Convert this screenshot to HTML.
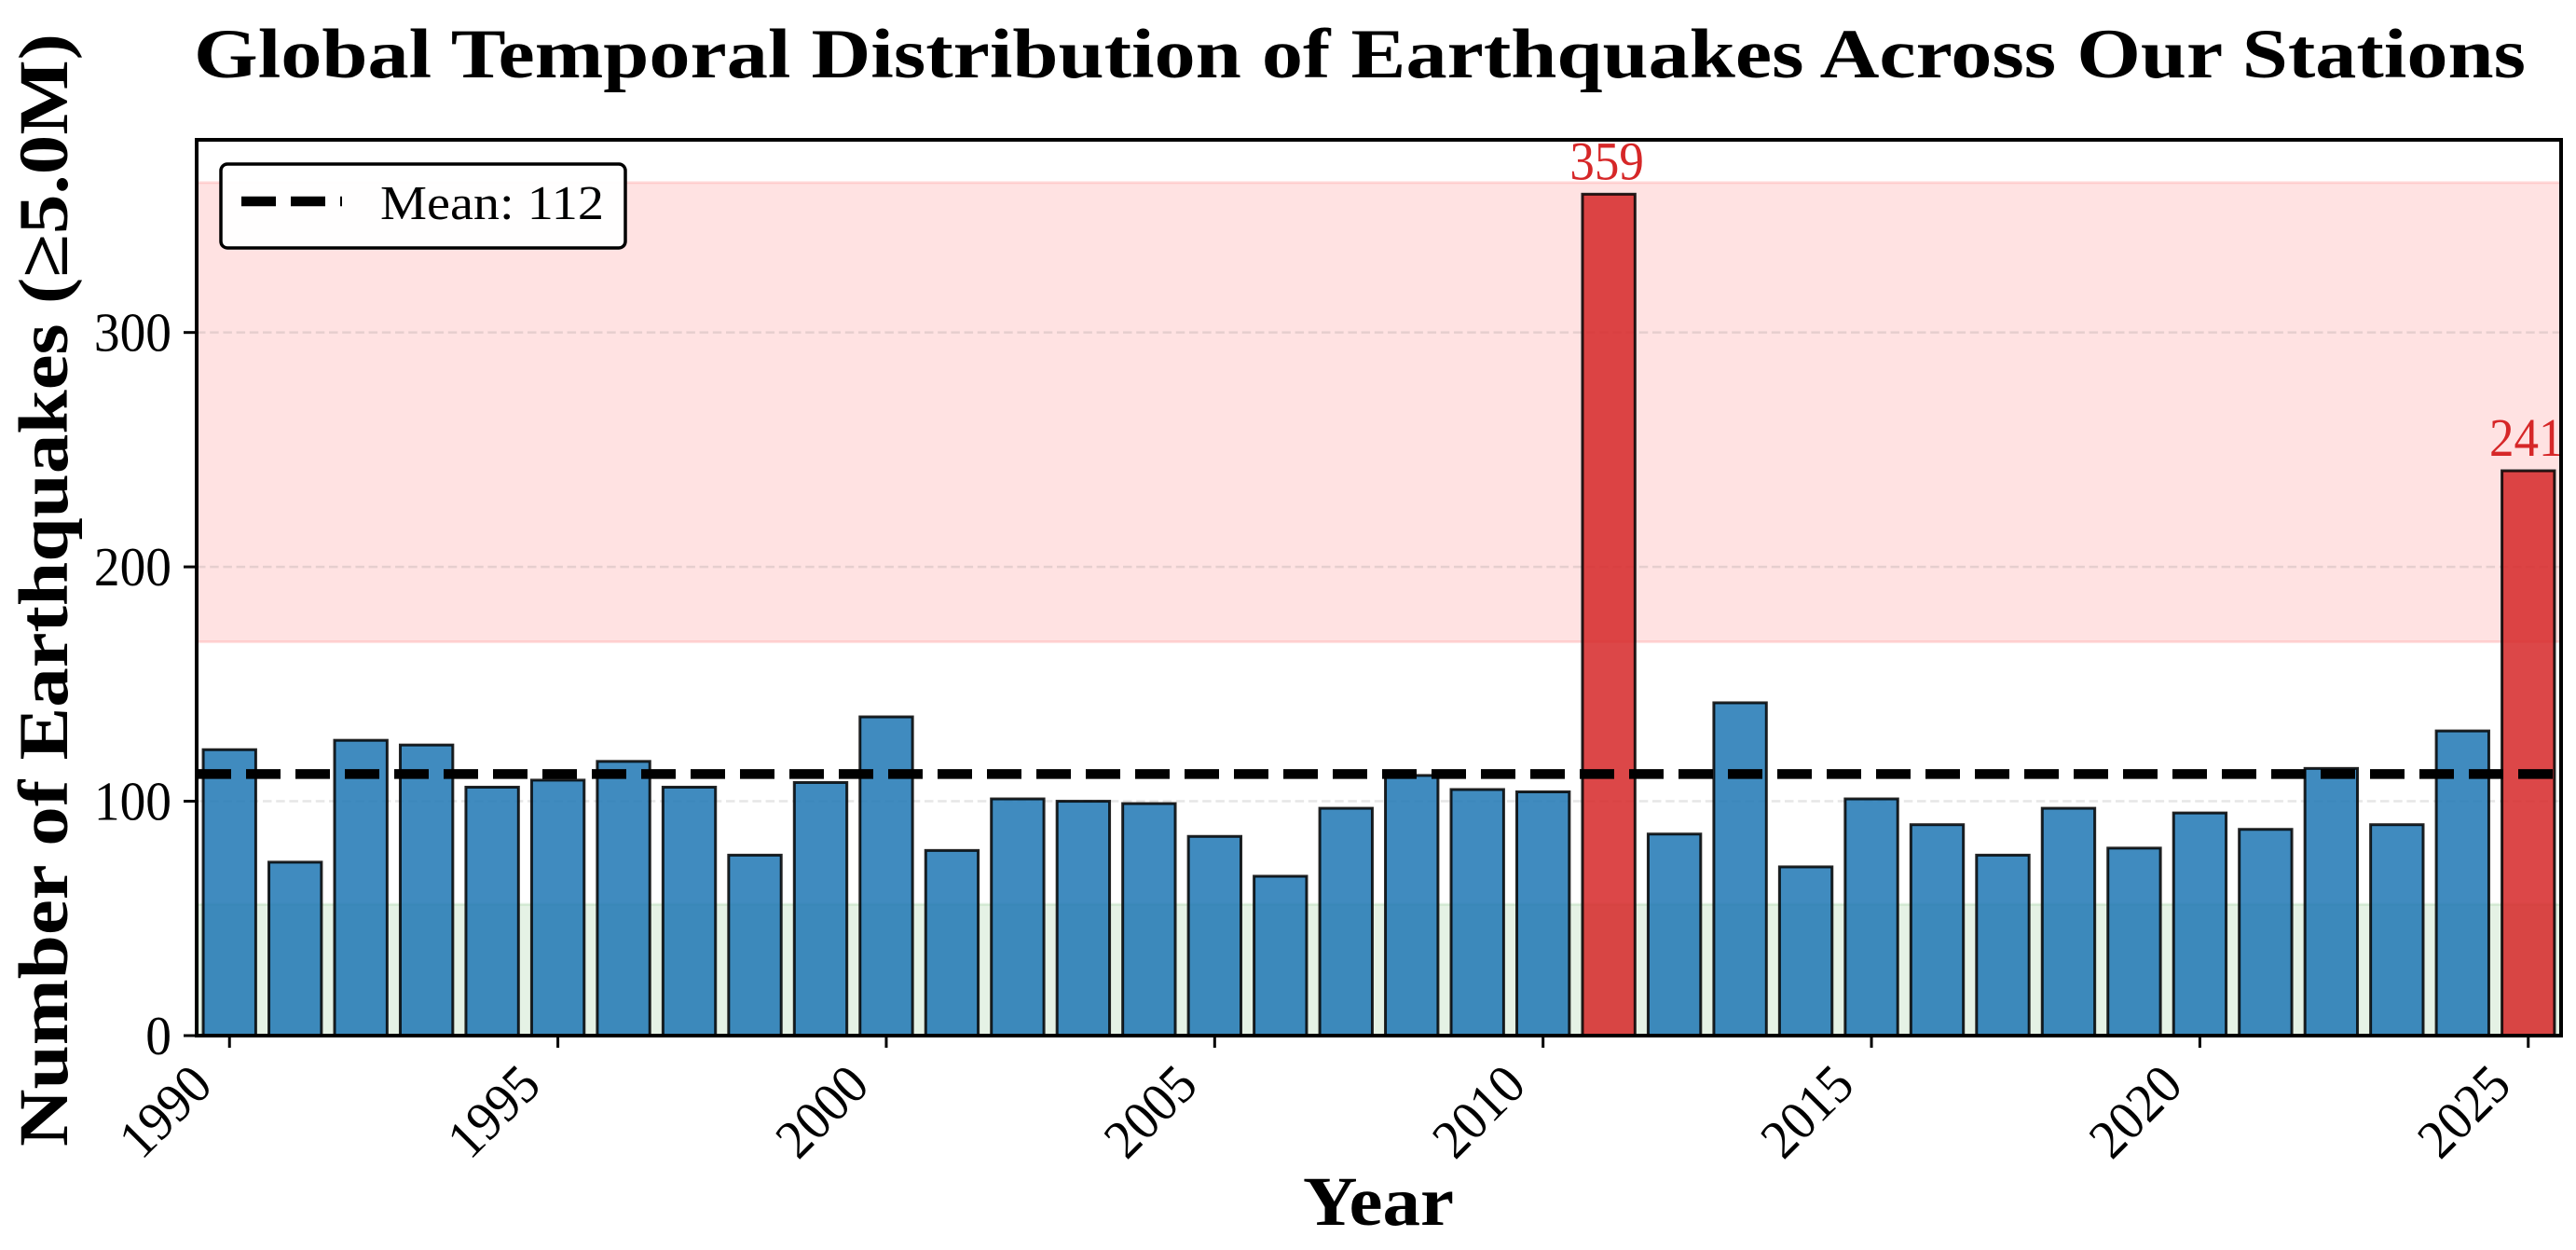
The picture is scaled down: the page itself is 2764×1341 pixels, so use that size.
<!DOCTYPE html>
<html lang="en">
<head>
<meta charset="utf-8">
<title>Global Temporal Distribution of Earthquakes Across Our Stations</title>
<style>
html,body{margin:0;padding:0;background:#fff;width:2764px;height:1341px;overflow:hidden}
svg{display:block}
text{font-family:"Liberation Serif",serif;fill:#000}
.bold{font-weight:bold}
</style>
</head>
<body>
<svg id="chart" xmlns="http://www.w3.org/2000/svg" width="2764" height="1341" viewBox="0 0 2764 1341">
  <rect x="0" y="0" width="2764" height="1341" fill="#fff"/>
  <text class="bold" x="208" y="83" font-size="75" textLength="2502" lengthAdjust="spacingAndGlyphs">Global Temporal Distribution of Earthquakes Across Our Stations</text>
  <text class="bold" transform="translate(72,1230) rotate(-90)" x="0" y="0" font-size="75" textLength="1194" lengthAdjust="spacingAndGlyphs">Number of Earthquakes (≥5.0M)</text>
  <text class="bold" x="1398" y="1314" font-size="75" textLength="162" lengthAdjust="spacingAndGlyphs">Year</text>
  <g id="bands"></g>
  <g id="grid"></g>
  <g id="bars"></g>
  <g id="mean"></g>
  <g id="labels"></g>
  <g id="xticks"></g>
  <g id="yticks"></g>
  <rect x="211" y="150" width="2537" height="961" fill="none" stroke="#000" stroke-width="4"/>
  <g>
    <rect x="237" y="176" width="434" height="90" rx="7" ry="7" fill="#fff" fill-opacity="0.95" stroke="#000" stroke-width="3.5"/>
    <line x1="259" y1="216" x2="367" y2="216" stroke="#000" stroke-width="10.5" stroke-dasharray="37 16"/>
    <text x="408" y="235" font-size="52" textLength="240" lengthAdjust="spacingAndGlyphs">Mean: 112</text>
  </g>
</svg>
<script>
// Chart data
const years = [1990,1991,1992,1993,1994,1995,1996,1997,1998,1999,2000,2001,2002,2003,2004,2005,2006,2007,2008,2009,2010,2011,2012,2013,2014,2015,2016,2017,2018,2019,2020,2021,2022,2023,2024,2025];
const counts = [122,74,126,124,106,109,117,106,77,108,136,79,101,100,99,85,68,97,111,105,104,359,86,142,72,101,90,77,97,80,95,88,114,90,130,241];
const xTickLabels = [1990,1995,2000,2005,2010,2015,2020,2025];
const yTickLabels = [0,100,200,300];
const meanValue = [111.6];
const highBand = [168,364];
const lowBand = [0,56];

// Axis functions
const NS = 'http://www.w3.org/2000/svg';
const axLeft = 211, axRight = 2748, axTop = 150, axBottom = 1111;
const yearStart = years[0] - 0.5, yearEnd = years[years.length - 1] + 0.5;
const yMax = 382.2;
function xScale(year){ return axLeft + (year - yearStart) * (axRight - axLeft) / (yearEnd - yearStart); }
function yScale(value){ return axBottom - value * (axBottom - axTop) / yMax; }
const barWidth = 0.8 * (axRight - axLeft) / (yearEnd - yearStart);
function make(tag, attrs, parent){
  const el = document.createElementNS(NS, tag);
  for (const k in attrs) el.setAttribute(k, attrs[k]);
  document.getElementById(parent).appendChild(el);
  return el;
}

// Shaded bands
const highRect = make('rect', {x:axLeft, y:yScale(highBand[1]), width:axRight-axLeft, height:yScale(highBand[0])-yScale(highBand[1]), fill:'#ff0000', 'fill-opacity':0.115, stroke:'#ff0000', 'stroke-opacity':0.115, 'stroke-width':3}, 'bands');


const lowRect = make('rect', {x:axLeft, y:yScale(lowBand[1]), width:axRight-axLeft, height:yScale(lowBand[0])-yScale(lowBand[1]), fill:'#008000', 'fill-opacity':0.1, stroke:'#008000', 'stroke-opacity':0.1, 'stroke-width':3}, 'bands');



// Gridlines and y ticks
yTickLabels.forEach(function(v){
  if (v > 0) {
    const g = make('line', {x1:axLeft, x2:axRight, y1:yScale(v), y2:yScale(v), stroke:'#808080', 'stroke-opacity':0.2, 'stroke-width':2.5, 'stroke-dasharray':'9.5 4.7'}, 'grid');
    
    
  }
  const t = make('line', {x1:axLeft-14, x2:axLeft, y1:yScale(v), y2:yScale(v), stroke:'#000', 'stroke-width':3}, 'yticks');
  
  
  const s = String(v);
  const lab = make('text', {x:184, y:yScale(v)+20, 'font-size':59, 'text-anchor':'end', textLength:s.length*27.7, lengthAdjust:'spacingAndGlyphs'}, 'yticks');
  lab.textContent = s;
  
  
});

// Bars and peak labels
years.forEach(function(year, i){
  const v = counts[i];
  const high = v > highBand[0];
  const bar = make('rect', {x:xScale(year)-barWidth/2, y:yScale(v), width:barWidth, height:axBottom-yScale(v), fill:high?'#d62728':'#1f77b4', 'fill-opacity':0.85, stroke:'#000', 'stroke-opacity':0.85, 'stroke-width':3}, 'bars');
  
  
  if (high) {
    const lab = make('text', {x:xScale(year)-2, y:yScale(v)-16, 'font-size':58, 'text-anchor':'middle', textLength:String(v).length*26.5, lengthAdjust:'spacingAndGlyphs', style:'fill:#d62728'}, 'labels');
    lab.textContent = String(v);
    
    
  }
});

// Mean line
const meanLine = make('line', {x1:axLeft, x2:axRight, y1:yScale(meanValue[0]), y2:yScale(meanValue[0]), stroke:'#000', 'stroke-width':10.5, 'stroke-dasharray':'37 16'}, 'mean');



// X ticks
xTickLabels.forEach(function(year){
  const x = xScale(year);
  const t = make('line', {x1:x, x2:x, y1:axBottom, y2:axBottom+13, stroke:'#000', 'stroke-width':3}, 'xticks');
  
  
  const lab = make('text', {transform:'translate(' + (x-16) + ',1167) rotate(-45)', x:0, y:0, 'font-size':59, 'text-anchor':'end', textLength:111, lengthAdjust:'spacingAndGlyphs'}, 'xticks');
  lab.textContent = String(year);
  
  
});
</script>
</body>
</html>
